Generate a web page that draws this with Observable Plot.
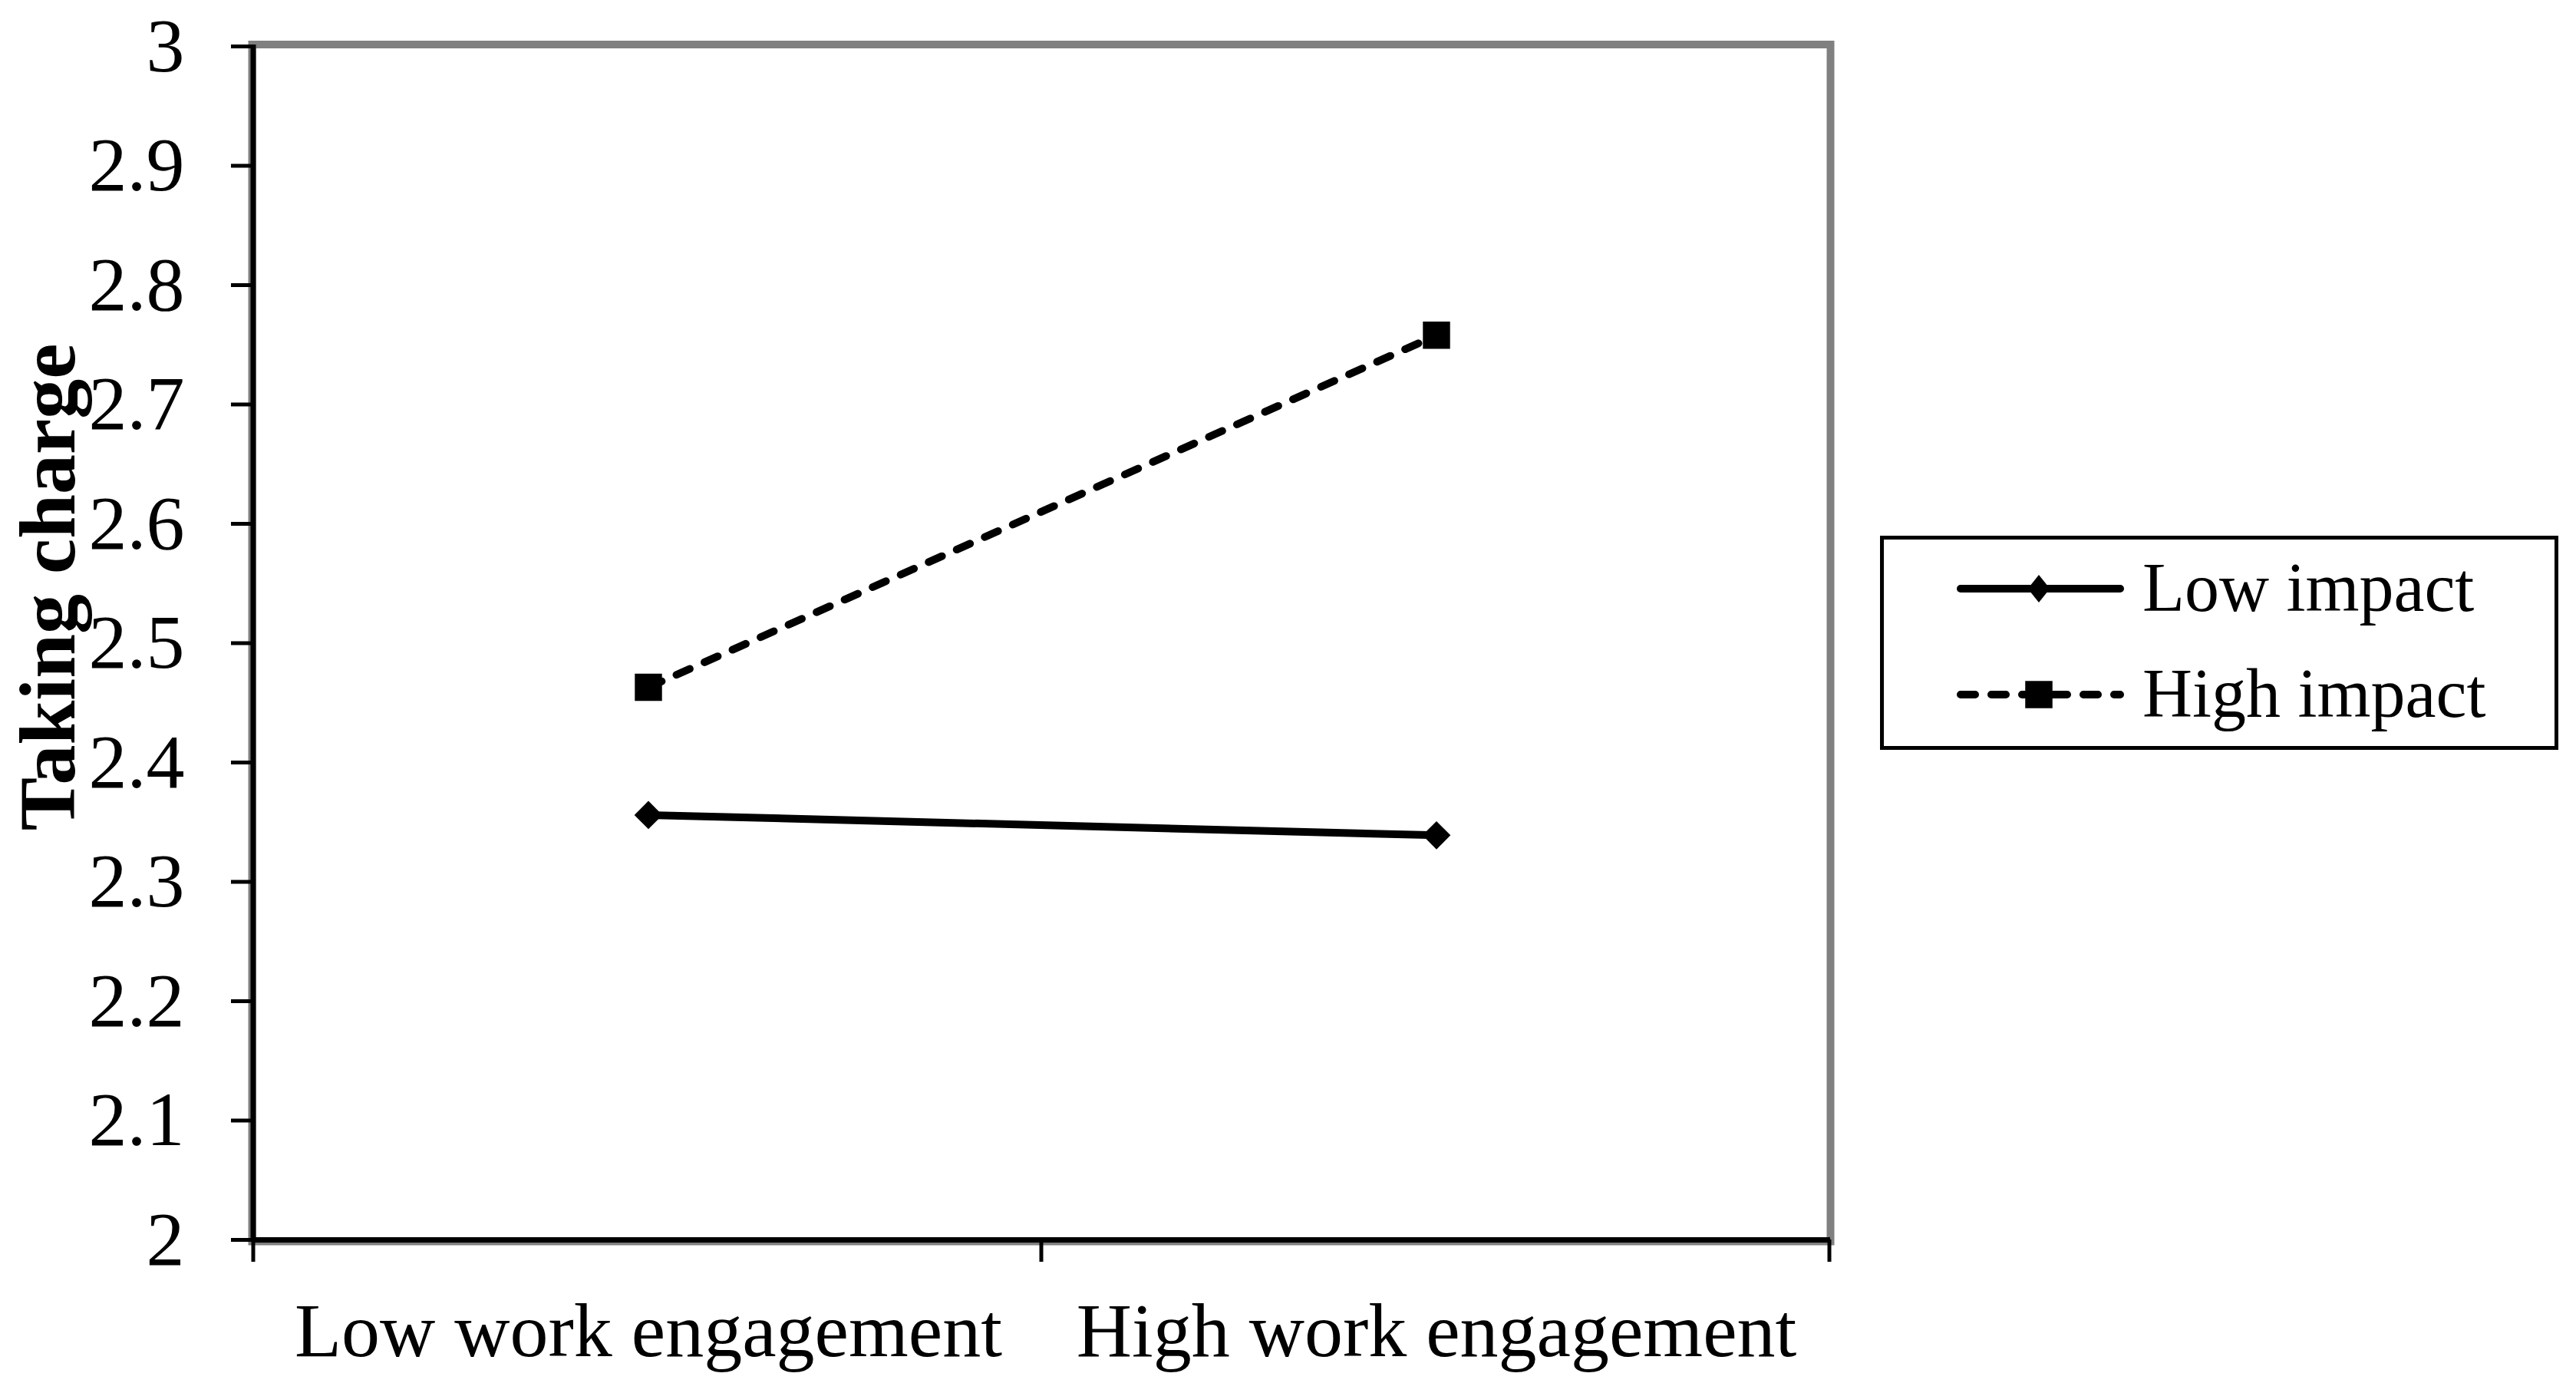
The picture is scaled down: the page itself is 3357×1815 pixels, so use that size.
<!DOCTYPE html>
<html>
<head>
<meta charset="utf-8">
<script src="https://cdn.jsdelivr.net/npm/d3@7"></script>
<script src="https://cdn.jsdelivr.net/npm/@observablehq/plot@0.6"></script>
<style>
  html, body { margin: 0; padding: 0; background: #fff; }
</style>
</head>
<body>
<div id="chart"></div>
<script>
// ---- data ----
const engagementLevels = ["Low work engagement", "High work engagement"];
const impactSeries = ["Low impact", "High impact"];
const lowImpactValues = [2.356, 2.339];
const highImpactValues = [2.463, 2.758];
const yTickValues = [2, 2.1, 2.2, 2.3, 2.4, 2.5, 2.6, 2.7, 2.8, 2.9, 3];
const yTitle = "Taking charge";

const lowRows = engagementLevels.map((e, i) => ({engagement: e, impact: impactSeries[0], value: lowImpactValues[i]}));
const highRows = engagementLevels.map((e, i) => ({engagement: e, impact: impactSeries[1], value: highImpactValues[i]}));

const FONT = "'Liberation Serif', 'Times New Roman', serif";
const W = 3357, H = 1815;
const DASH = "19,21";

const chart = Plot.plot({
  width: W,
  height: H,
  marginLeft: 330,
  marginRight: 972,
  marginTop: 60,
  marginBottom: 200,
  style: {fontFamily: FONT, fontSize: "100px", color: "#000", background: "#fff", overflow: "visible"},
  x: {type: "band", domain: engagementLevels, padding: 0, label: null},
  y: {domain: [2, 3], label: null},
  marks: [
    Plot.frame({stroke: "#808080", strokeWidth: 10, insetLeft: -2, insetTop: -2.5, insetBottom: -2}),
    Plot.ruleY([2], {stroke: "#000", strokeWidth: 7}),
    Plot.axisY({ticks: yTickValues, tickFormat: d => String(d), tickSize: 29, tickPadding: 61,
                strokeWidth: 5, fontSize: 100, label: null}),
    Plot.axisX({tickSize: 0, tickPadding: 80, fontSize: 100, label: null}),
    Plot.line(lowRows, {x: "engagement", y: "value", stroke: "#000", strokeWidth: 10}),
    Plot.line(highRows, {x: "engagement", y: "value", stroke: "#000", strokeWidth: 10,
                         strokeDasharray: DASH, strokeLinecap: "round"}),
    Plot.dot(lowRows, {x: "engagement", y: "value", symbol: "diamond2", r: 16.5, fill: "#000", stroke: "none"}),
    Plot.dot(highRows, {x: "engagement", y: "value", symbol: "square", r: 20, fill: "#000", stroke: "none"})
  ]
});

document.getElementById("chart").appendChild(chart);

// ---- axis lines and boundary ticks from the Plot scales ----
const svg = d3.select(chart);
const xs = chart.scale("x");
const ys = chart.scale("y");
const x0 = xs.range[0];
const bw = xs.bandwidth;
const yTop = ys.apply(ys.domain[1]);
const yBot = ys.apply(ys.domain[0]);

svg.append("line")
  .attr("x1", x0).attr("x2", x0)
  .attr("y1", yTop - 2).attr("y2", yBot)
  .attr("stroke", "#000").attr("stroke-width", 7);

const boundaries = d3.range(engagementLevels.length + 1).map(i => x0 + i * bw);
svg.append("g").selectAll("line").data(boundaries).join("line")
  .attr("x1", d => d).attr("x2", d => d)
  .attr("y1", yBot).attr("y2", yBot + 29)
  .attr("stroke", "#000").attr("stroke-width", 5);

// ---- y title ----
svg.append("text")
  .attr("transform", `translate(97,765) rotate(-90)`)
  .attr("text-anchor", "middle")
  .attr("font-family", FONT)
  .attr("font-weight", "bold")
  .attr("font-size", 104)
  .attr("fill", "#000")
  .text(yTitle);

// ---- legend ----
const lg = svg.append("g").attr("text-anchor", "start");
lg.append("rect")
  .attr("x", 2452.5).attr("y", 700.5).attr("width", 879).attr("height", 274)
  .attr("fill", "#fff").attr("stroke", "#000").attr("stroke-width", 5);

const legendRowsY = [767, 905];
const dashes = [null, DASH];
impactSeries.forEach((name, i) => {
  const y = legendRowsY[i];
  lg.append("line")
    .attr("x1", 2555).attr("x2", 2763).attr("y1", y).attr("y2", y)
    .attr("stroke", "#000").attr("stroke-width", 10)
    .attr("stroke-linecap", "round")
    .attr("stroke-dasharray", dashes[i]);
  if (i === 0) {
    lg.append("path")
      .attr("d", d3.symbol(d3.symbolDiamond2, 826)())
      .attr("transform", `translate(2657,${y}) scale(0.8,1)`)
      .attr("fill", "#000");
  } else {
    lg.append("path")
      .attr("d", d3.symbol(d3.symbolSquare, 1260)())
      .attr("transform", `translate(2657,${y})`)
      .attr("fill", "#000");
  }
  lg.append("text")
    .attr("x", 2792).attr("y", y).attr("dy", "0.32em")
    .attr("text-anchor", "start")
    .attr("font-family", FONT).attr("font-size", 90).attr("fill", "#000")
    .text(name);
});
</script>
</body>
</html>
